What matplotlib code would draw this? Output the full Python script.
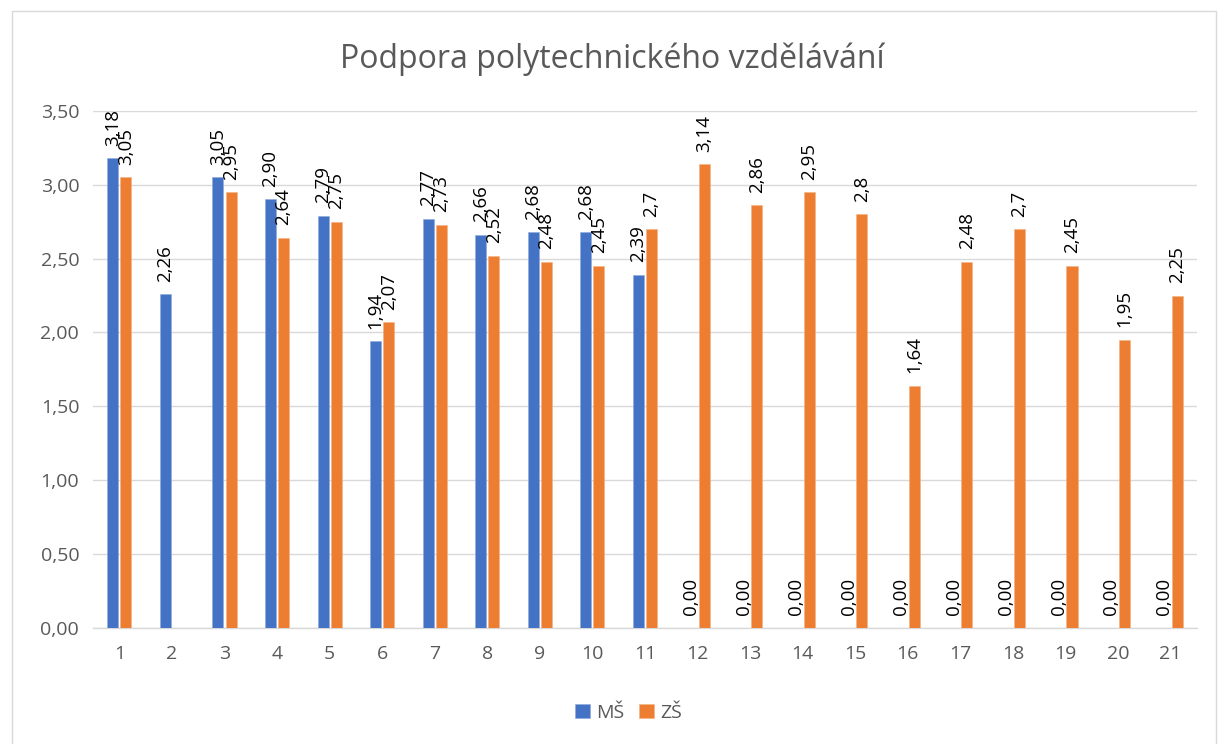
import numpy as np
import matplotlib
matplotlib.use("Agg")
import matplotlib.pyplot as plt
from matplotlib.patches import Rectangle

categories = [str(i) for i in range(1, 22)]
ms_values = [3.18, 2.26, 3.05, 2.90, 2.79, 1.94, 2.77, 2.66, 2.68, 2.68, 2.39,
             0, 0, 0, 0, 0, 0, 0, 0, 0, 0]
zs_values = [3.05, np.nan, 2.95, 2.64, 2.75, 2.07, 2.73, 2.52, 2.48, 2.45, 2.7,
             3.14, 2.86, 2.95, 2.8, 1.64, 2.48, 2.7, 2.45, 1.95, 2.25]
ms_labels = ["3,18", "2,26", "3,05", "2,90", "2,79", "1,94", "2,77", "2,66", "2,68", "2,68", "2,39",
             "0,00", "0,00", "0,00", "0,00", "0,00", "0,00", "0,00", "0,00", "0,00", "0,00"]
zs_labels = ["3,05", "", "2,95", "2,64", "2,75", "2,07", "2,73", "2,52", "2,48", "2,45", "2,7",
             "3,14", "2,86", "2,95", "2,8", "1,64", "2,48", "2,7", "2,45", "1,95", "2,25"]
yticks = [0, 0.5, 1.0, 1.5, 2.0, 2.5, 3.0, 3.5]
ytick_labels = ["0,00", "0,50", "1,00", "1,50", "2,00", "2,50", "3,00", "3,50"]
title = "Podpora polytechnického vzdělávání"

plt.rcParams['font.family'] = ['Open Sans', 'DejaVu Sans']
gray = "#595959"
blue = "#4472C4"
orange = "#ED7D31"

fig = plt.figure(figsize=(12.25, 7.44), dpi=100)
fig.patches.append(Rectangle((0.0095, -0.01), 0.983, 0.995, transform=fig.transFigure,
                             fill=False, edgecolor="#d9d9d9", lw=1))
ax = fig.add_axes([0.076, 0.156, 0.901, 0.695])

x = np.arange(1, len(categories) + 1)
w = 0.21
off = 0.125
ax.bar(x - off, ms_values, w, color=blue, edgecolor="#8faadc", linewidth=0.4, zorder=3, label="MŠ")
ax.bar(x + off, zs_values, w, color=orange, edgecolor="#f4b183", linewidth=0.4, zorder=3, label="ZŠ")

for xi, v, s in zip(x, ms_values, ms_labels):
    if s:
        ax.annotate(s, (xi - off, v), xytext=(0, 9), textcoords="offset points",
                    rotation=90, ha="center", va="bottom", fontsize=13.5, color="black")
for xi, v, s in zip(x, zs_values, zs_labels):
    if s:
        ax.annotate(s, (xi + off, v), xytext=(0, 9), textcoords="offset points",
                    rotation=90, ha="center", va="bottom", fontsize=13.5, color="black")

ax.set_xlim(0.5, len(categories) + 0.5)
ax.set_ylim(0, 3.5)
ax.set_yticks(yticks)
ax.set_yticklabels(ytick_labels)
ax.set_xticks(x)
ax.set_xticklabels(categories)
ax.tick_params(axis="both", length=0, labelsize=14, colors=gray)
ax.tick_params(axis="x", pad=12)
ax.tick_params(axis="y", pad=10)
ax.grid(axis="y", color="#d9d9d9", linewidth=1, zorder=0)
for sp in ["top", "right", "left"]:
    ax.spines[sp].set_visible(False)
ax.spines["bottom"].set_color("#d9d9d9")
ax.spines["bottom"].set_linewidth(1)

fig.text(0.5, 0.921, title, ha="center", va="center", fontsize=23, color=gray)

handles, labels = ax.get_legend_handles_labels()
fig.legend(handles, labels, loc="center", bbox_to_anchor=(0.513, 0.042), ncol=2, frameon=False,
           fontsize=14, labelcolor=gray, handlelength=0.75, handleheight=0.75,
           handletextpad=0.3, columnspacing=0.8)

fig.savefig("out.png", dpi=100, facecolor="white")
